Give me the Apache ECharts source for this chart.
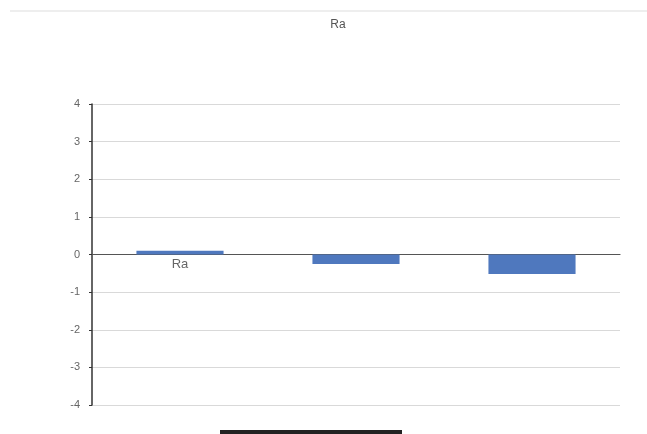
<!DOCTYPE html>
<html>
<head>
<meta charset="utf-8">
<script src="https://cdn.jsdelivr.net/npm/echarts@6/dist/echarts.min.js"></script>
<style>html,body{margin:0;padding:0;background:#fff;}#c{width:647px;height:434px;}</style>
</head>
<body>
<div id="c"></div>
<script>
const titleText = "Ra";
const categories = ["Ra", "", ""];
const values = [0.1, -0.25, -0.52];
const yTicks = [-4, -3, -2, -1, 0, 1, 2, 3, 4];

const chart = echarts.init(document.getElementById('c'), null, {renderer: 'canvas'});
chart.setOption({
  animation: false,
  backgroundColor: '#fff',
  title: {
    text: titleText, left: 333, top: 14, textAlign: 'center',
    textStyle: {fontFamily: 'Liberation Sans', fontSize: 12, fontWeight: 'normal', color: '#555'}
  },
  grid: {left: 92, right: 27, top: 104, bottom: 29},
  xAxis: {
    type: 'category', data: categories,
    offset: -151,
    axisLine: {onZero: false, lineStyle: {color: '#555', width: 1.2}},
    axisTick: {show: false},
    axisLabel: {fontFamily: 'Liberation Sans', fontSize: 13, color: '#666', margin: 4},
    splitLine: {show: false}
  },
  yAxis: {
    type: 'value', min: yTicks[0], max: yTicks[yTicks.length - 1], interval: 1,
    axisLine: {show: true, lineStyle: {color: '#333', width: 1.5}},
    axisTick: {show: true, length: 3, lineStyle: {color: '#333'}},
    axisLabel: {fontFamily: 'Liberation Sans', fontSize: 11, color: '#666', margin: 12},
    splitLine: {show: true, lineStyle: {color: '#d9d9d9', width: 1.2}}
  },
  series: [{
    type: 'bar', data: values, barWidth: '49.5%',
    itemStyle: {color: '#4f78be'}
  }],
  graphic: [
    {type: 'line', shape: {x1: 10, y1: 11, x2: 647, y2: 11}, style: {stroke: '#eeeeee', lineWidth: 2}},
    {type: 'rect', shape: {x: 220, y: 430, width: 182, height: 4}, style: {fill: '#222'}}
  ]
});
</script>
</body>
</html>
